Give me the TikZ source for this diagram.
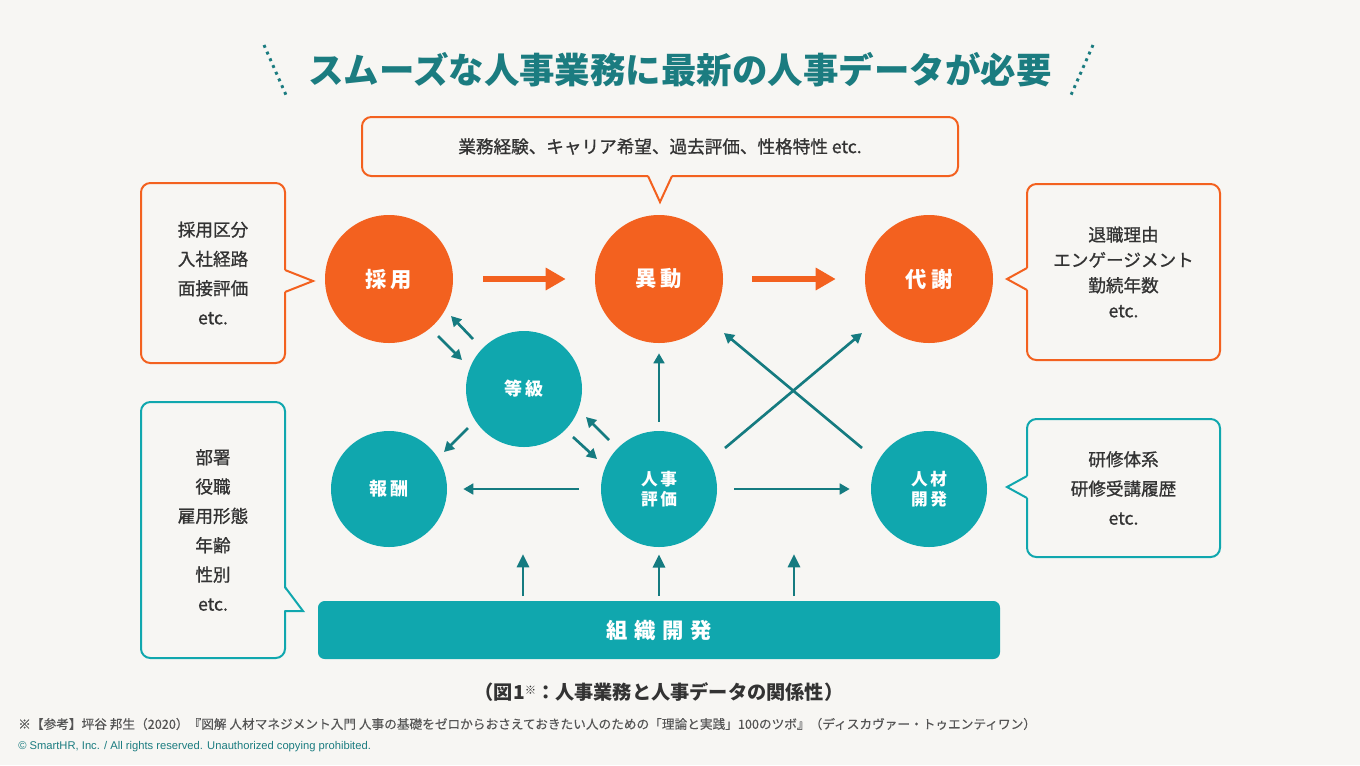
\documentclass[tikz,border=0pt]{standalone}
\usepackage{fontspec}
\setmainfont{Noto Sans CJK JP}
\newfontfamily\jpmed[FakeBold=0.9]{Noto Sans CJK JP}
\newfontfamily\jplite[FakeBold=0.3]{Noto Sans CJK JP}
\newfontfamily\latsans{Liberation Sans}
\usetikzlibrary{arrows.meta}
\definecolor{bgc}{HTML}{F7F6F3}
\definecolor{orangec}{HTML}{F3611F}
\definecolor{tealc}{HTML}{10A7AE}
\definecolor{dteal}{HTML}{157B80}
\definecolor{titlec}{HTML}{1B7C80}
\definecolor{txt}{HTML}{333333}
\definecolor{notec}{HTML}{555555}
\tikzset{
  circO/.style={circle, fill=orangec, minimum size=96pt, inner sep=0pt, text=white, font=\bfseries\fontsize{16}{18}\selectfont},
  circT/.style={circle, fill=tealc, minimum size=87pt, inner sep=0pt, text=white, align=center, font=\bfseries\fontsize{12.5}{15}\selectfont},
  boxO/.style={draw=orangec, line width=1.5pt, rounded corners=7pt, fill=bgc, inner sep=0pt, text=txt, align=center, font=\jpmed\fontsize{13.2}{22}\selectfont},
  boxT/.style={boxO, draw=tealc},
  ptrO/.style={draw=orangec, line width=1.5pt, line join=miter},
  ptrT/.style={draw=tealc, line width=1.5pt, line join=miter},
  oarrow/.style={draw=orangec, line width=4pt, -{Triangle[length=15pt,width=16pt]}},
  tarrow/.style={draw=dteal, line width=2pt, -{Triangle[length=7.5pt,width=8pt]}},
  uarrow/.style={draw=dteal, line width=2.2pt, -{Triangle[length=10pt,width=9pt]}},
  dotline/.style={draw=titlec, line width=2.2pt, dash pattern=on 2.2pt off 3.3pt},
}
\begin{document}
\begin{tikzpicture}[x=0.75pt,y=-0.75pt]
\fill[bgc] (0,0) rectangle (1360,765);
\useasboundingbox (0,0) rectangle (1360,765);

% title
\node[text=titlec, font=\bfseries\fontsize{26.6}{30}\selectfont] (title) at (680,70) {スムーズな人事業務に最新の人事データが必要};
\coordinate (dl1) at (264,45); \coordinate (dl2) at (286,95);
\coordinate (dr1) at (1093,45); \coordinate (dr2) at (1071,95);
\draw[dotline] (dl1) -- (dl2);
\draw[dotline] (dr1) -- (dr2);

% callouts
\node[boxO, minimum width=447pt, minimum height=44.25pt] (cbtop) at (660,146.5) {業務経験、キャリア希望、過去評価、性格特性 etc.};
\fill[bgc] (647.5,174) -- (660,202) -- (672.5,174) -- cycle;
\draw[ptrO] (648,176) -- (660,202) -- (672,176);

\node[boxO, minimum width=108pt, minimum height=135pt] (cblt) at (213,273) {採用区分\\入社経路\\面接評価\\etc.};
\fill[bgc] (283,269.5) -- (313,281) -- (283,292.5) -- cycle;
\draw[ptrO] (285,270) -- (313,281) -- (285,292);

\node[boxO, minimum width=144.75pt, minimum height=132pt, font=\jpmed\fontsize{13.2}{19}\selectfont] (cbrt) at (1123.5,272) {退職理由\\エンゲージメント\\勤続年数\\etc.};
\fill[bgc] (1029,267.5) -- (1007,279) -- (1029,290.5) -- cycle;
\draw[ptrO] (1027,268) -- (1007,279) -- (1027,290);

\node[boxT, minimum width=108pt, minimum height=192pt] (cblb) at (213,530) {部署\\役職\\雇用形態\\年齢\\性別\\etc.};
\fill[bgc] (283,586.5) -- (303,611) -- (283,610.2) -- cycle;
\draw[ptrT] (285,587) -- (303,611) -- (285,611);

\node[boxT, minimum width=144.75pt, minimum height=103.5pt] (cbrb) at (1123.5,488) {研修体系\\研修受講履歴\\etc.};
\fill[bgc] (1029,475.5) -- (1007,487) -- (1029,498.5) -- cycle;
\draw[ptrT] (1027,476) -- (1007,487) -- (1027,498);

% circles
\node[circO] (saiyo) at (389,279) {採\kern3pt 用};
\node[circO] (idou) at (659,279) {異\kern3pt 動};
\node[circO] (taisha) at (929,279) {代\kern3pt 謝};
\node[circT, font=\bfseries\fontsize{13.5}{16}\selectfont] (toukyu) at (524,389) {等\kern2pt 級};
\node[circT, font=\bfseries\fontsize{13.5}{16}\selectfont] (houshu) at (389,489) {報\kern2pt 酬};
\node[circT] (hyouka) at (659,489) {人\kern2pt 事\\評\kern2pt 価};
\node[circT] (kaihatsu) at (929,489) {人\kern2pt 材\\開\kern2pt 発};

% bar
\node[fill=tealc, rounded corners=5pt, minimum width=511.5pt, minimum height=43.5pt, inner sep=0pt, text=white, font=\bfseries\fontsize{16}{18}\selectfont] (soshiki) at (659,630) {組\kern5pt 織\kern5pt 開\kern5pt 発};

% orange arrows
\draw[oarrow, shorten <=22.5pt, shorten >=21.75pt] (saiyo) -- (idou);
\draw[oarrow, shorten <=21.75pt, shorten >=21.75pt] (idou) -- (taisha);

% teal arrows
\coordinate (a1s) at (473,339); \coordinate (a1e) at (451,316);
\coordinate (a2s) at (438,336); \coordinate (a2e) at (462,360);
\coordinate (a3s) at (468,428); \coordinate (a3e) at (444,452);
\coordinate (a4s) at (609,440); \coordinate (a4e) at (586,417);
\coordinate (a5s) at (573,437); \coordinate (a5e) at (597,459);
\coordinate (a6s) at (725,448); \coordinate (a6e) at (862,333);
\coordinate (a7s) at (862,448); \coordinate (a7e) at (724,333);
\draw[tarrow] (a1s) -- (a1e);
\draw[tarrow] (a2s) -- (a2e);
\draw[tarrow] (a3s) -- (a3e);
\draw[tarrow] (a4s) -- (a4e);
\draw[tarrow] (a5s) -- (a5e);
\draw[tarrow] (a6s) -- (a6e);
\draw[tarrow] (a7s) -- (a7e);
\draw[tarrow, shorten <=6.75pt, shorten >=7.5pt] (hyouka) -- (idou);
\draw[tarrow, shorten <=16.5pt, shorten >=12pt] (hyouka) -- (houshu);
\draw[tarrow, shorten <=12.75pt, shorten >=15.75pt] (hyouka) -- (kaihatsu);

% up arrows from bar
\coordinate (u1s) at (523,596); \coordinate (u1e) at (523,554);
\coordinate (u3s) at (794,596); \coordinate (u3e) at (794,554);
\draw[uarrow] (u1s) -- (u1e);
\draw[uarrow, shorten <=3.75pt, shorten >=5.25pt] (soshiki.north) -- (hyouka.south);
\draw[uarrow] (u3s) -- (u3e);

% footer
\node[text=txt, font=\bfseries\fontsize{14.4}{16}\selectfont] (caption) at (659,692) {（図1\raisebox{0.45ex}{\fontsize{8.5}{8}\selectfont ※}：人事業務と人事データの関係性）};
\node[anchor=west, inner sep=0pt, text=notec, font=\jplite\fontsize{9.5}{11}\selectfont] (note) at (18,724) {※【参考】坪谷 邦生（2020）『図解 人材マネジメント入門 人事の基礎をゼロからおさえておきたい人のための「理論と実践」100のツボ』（ディスカヴァー・トゥエンティワン）};
\node[anchor=west, inner sep=0pt, text=titlec, font=\latsans\fontsize{8.4}{10}\selectfont] (copy) at (18,747) {© SmartHR, Inc. / All rights reserved. Unauthorized copying prohibited.};
\end{tikzpicture}
\end{document}
